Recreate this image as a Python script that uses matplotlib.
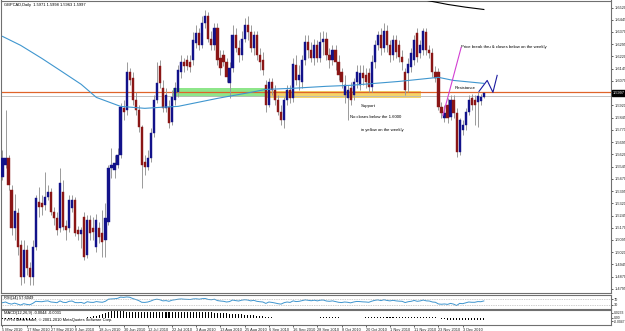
import matplotlib
matplotlib.use("Agg")
import matplotlib.pyplot as plt
from matplotlib.patches import Rectangle

plt.rcParams["font.family"] = ["Liberation Sans", "DejaVu Sans"]

# GBPCAD daily candles, 5 May 2010 .. 14 Dec 2010
opens = [1.5480, 1.5553, 1.5596, 1.5400, 1.5170, 1.5263, 1.5064, 1.4868, 1.5033, 1.4923,
         1.4868, 1.5052, 1.5327, 1.5321, 1.5308, 1.5357, 1.5388, 1.5266, 1.5229, 1.5168,
         1.5388, 1.5180, 1.5168, 1.5290, 1.5339, 1.5155, 1.5131, 1.5235, 1.5003, 1.5217,
         1.5168, 1.5052, 1.5168, 1.5137, 1.5094, 1.5204, 1.5535, 1.5523, 1.5553, 1.5614,
         1.5902, 1.5890, 1.6122, 1.6086, 1.5951, 1.5890, 1.5786, 1.5572, 1.5541, 1.5596,
         1.5749, 1.5951, 1.6159, 1.6025, 1.5902, 1.5908, 1.5817, 1.5951, 1.6000, 1.6122,
         1.6184, 1.6196, 1.6184, 1.6196, 1.6300, 1.6361, 1.6288, 1.6428, 1.6471, 1.6330,
         1.6288, 1.6392, 1.6208, 1.6226, 1.6184, 1.6055, 1.6147, 1.6349, 1.6269, 1.6226,
         1.6330, 1.6410, 1.6367, 1.6269, 1.6349, 1.6226, 1.6196, 1.6043, 1.5920, 1.6061,
         1.6012, 1.5951, 1.5878, 1.5829, 1.5951, 1.6012, 1.5963, 1.6165, 1.6073, 1.6061,
         1.6196, 1.6306, 1.6257, 1.6208, 1.6288, 1.6208, 1.6306, 1.6330, 1.6226, 1.6196,
         1.6257, 1.6184, 1.6122, 1.5982, 1.5963, 1.6025, 1.5982, 1.6061, 1.6043, 1.6116,
         1.6104, 1.6116, 1.6031, 1.6184, 1.6288, 1.6349, 1.6269, 1.6379, 1.6288, 1.6226,
         1.6318, 1.6288, 1.6214, 1.6122, 1.6116, 1.6153, 1.6196, 1.6361, 1.6239, 1.6257,
         1.6367, 1.6257, 1.6239, 1.6122, 1.6122, 1.5908, 1.5841, 1.5920, 1.5847, 1.5951,
         1.5871, 1.5633, 1.5767, 1.5798, 1.5878, 1.5963, 1.5951, 1.5939, 1.5945, 1.5971]
highs = [1.5645, 1.5890, 1.5614, 1.5431, 1.5376, 1.5290, 1.5094, 1.5094, 1.5064, 1.4960,
         1.5094, 1.5370, 1.5419, 1.5370, 1.5510, 1.5431, 1.5413, 1.5296, 1.5266, 1.5535,
         1.5461, 1.5217, 1.5370, 1.5370, 1.5357, 1.5180, 1.5174, 1.5266, 1.5247, 1.5247,
         1.5235, 1.5253, 1.5204, 1.5278, 1.5321, 1.5553, 1.5657, 1.5614, 1.5657, 1.5933,
         1.5951, 1.6184, 1.6147, 1.6122, 1.6000, 1.5920, 1.5798, 1.5614, 1.5645, 1.5780,
         1.5982, 1.6184, 1.6196, 1.6073, 1.6025, 1.5951, 1.6012, 1.6061, 1.6165, 1.6226,
         1.6208, 1.6226, 1.6226, 1.6367, 1.6410, 1.6392, 1.6471, 1.6502, 1.6490, 1.6379,
         1.6428, 1.6428, 1.6257, 1.6257, 1.6208, 1.6184, 1.6410, 1.6392, 1.6318, 1.6379,
         1.6453, 1.6471, 1.6410, 1.6379, 1.6379, 1.6269, 1.6245, 1.6073, 1.6086, 1.6086,
         1.6043, 1.5982, 1.5920, 1.5969, 1.6043, 1.6043, 1.6208, 1.6226, 1.6165, 1.6226,
         1.6349, 1.6349, 1.6306, 1.6330, 1.6318, 1.6367, 1.6379, 1.6367, 1.6269, 1.6288,
         1.6288, 1.6226, 1.6147, 1.6104, 1.6043, 1.6061, 1.6086, 1.6165, 1.6165, 1.6165,
         1.6147, 1.6147, 1.6226, 1.6318, 1.6379, 1.6392, 1.6428, 1.6410, 1.6318, 1.6349,
         1.6349, 1.6318, 1.6257, 1.6147, 1.6208, 1.6269, 1.6349, 1.6392, 1.6318, 1.6392,
         1.6392, 1.6288, 1.6269, 1.6159, 1.6147, 1.5939, 1.5920, 1.5963, 1.5982, 1.5982,
         1.5902, 1.5841, 1.5829, 1.5902, 1.5982, 1.5988, 1.5982, 1.6000, 1.5988, 1.5998]
lows = [1.5461, 1.5535, 1.5400, 1.5125, 1.5094, 1.5003, 1.4819, 1.4832, 1.4881, 1.4819,
        1.4819, 1.5033, 1.5235, 1.5247, 1.5278, 1.5339, 1.5247, 1.5186, 1.5125, 1.5143,
        1.5155, 1.5094, 1.5143, 1.5266, 1.5119, 1.5094, 1.5045, 1.4972, 1.4984, 1.5094,
        1.5094, 1.5021, 1.5076, 1.4990, 1.4990, 1.5186, 1.5474, 1.5474, 1.5535, 1.5596,
        1.5829, 1.5859, 1.6043, 1.5920, 1.5859, 1.5755, 1.5413, 1.5492, 1.5523, 1.5572,
        1.5725, 1.5933, 1.6025, 1.5878, 1.5878, 1.5780, 1.5798, 1.5920, 1.5969, 1.6086,
        1.6122, 1.6135, 1.6122, 1.6165, 1.6269, 1.6257, 1.6269, 1.6392, 1.6306, 1.6257,
        1.6257, 1.6165, 1.6104, 1.6159, 1.6061, 1.5963, 1.6122, 1.6245, 1.6184, 1.6196,
        1.6306, 1.6318, 1.6245, 1.6226, 1.6196, 1.6135, 1.6104, 1.5878, 1.5908, 1.5982,
        1.5920, 1.5859, 1.5798, 1.5780, 1.5920, 1.5933, 1.5939, 1.6043, 1.6012, 1.6025,
        1.6165, 1.6208, 1.6184, 1.6165, 1.6184, 1.6184, 1.6226, 1.6196, 1.6147, 1.6165,
        1.6135, 1.6073, 1.6025, 1.5933, 1.5829, 1.5920, 1.5951, 1.6025, 1.6012, 1.6043,
        1.6025, 1.6000, 1.6000, 1.6147, 1.6257, 1.6226, 1.6245, 1.6245, 1.6184, 1.6196,
        1.6208, 1.6184, 1.6135, 1.5982, 1.6000, 1.6122, 1.6165, 1.6184, 1.6208, 1.6226,
        1.6226, 1.6208, 1.6092, 1.6061, 1.5890, 1.5841, 1.5817, 1.5810, 1.5829, 1.5841,
        1.5602, 1.5614, 1.5737, 1.5767, 1.5859, 1.5890, 1.5798, 1.5786, 1.5920, 1.5963]
closes = [1.5596, 1.5596, 1.5431, 1.5170, 1.5270, 1.5052, 1.4868, 1.5033, 1.4923, 1.4868,
          1.5052, 1.5351, 1.5296, 1.5296, 1.5357, 1.5388, 1.5266, 1.5229, 1.5155, 1.5443,
          1.5174, 1.5155, 1.5339, 1.5339, 1.5137, 1.5131, 1.5155, 1.4990, 1.5217, 1.5137,
          1.5143, 1.5217, 1.5113, 1.5082, 1.5229, 1.5535, 1.5553, 1.5565, 1.5614, 1.5908,
          1.5878, 1.6122, 1.6073, 1.5951, 1.5890, 1.5786, 1.5553, 1.5541, 1.5596, 1.5749,
          1.5951, 1.6055, 1.6055, 1.5902, 1.5982, 1.5810, 1.5969, 1.6025, 1.6135, 1.6184,
          1.6159, 1.6159, 1.6153, 1.6318, 1.6361, 1.6288, 1.6428, 1.6471, 1.6330, 1.6288,
          1.6392, 1.6196, 1.6147, 1.6184, 1.6092, 1.6147, 1.6349, 1.6269, 1.6226, 1.6330,
          1.6410, 1.6367, 1.6269, 1.6349, 1.6226, 1.6184, 1.6135, 1.5920, 1.6061, 1.6012,
          1.5951, 1.5878, 1.5829, 1.5951, 1.6012, 1.5963, 1.6171, 1.6073, 1.6104, 1.6196,
          1.6306, 1.6257, 1.6208, 1.6288, 1.6208, 1.6306, 1.6330, 1.6226, 1.6196, 1.6257,
          1.6184, 1.6104, 1.6061, 1.6043, 1.6012, 1.5951, 1.6061, 1.6122, 1.6116, 1.6086,
          1.6061, 1.6031, 1.6184, 1.6288, 1.6349, 1.6269, 1.6379, 1.6288, 1.6226, 1.6318,
          1.6245, 1.6214, 1.6184, 1.6012, 1.6171, 1.6239, 1.6318, 1.6214, 1.6288, 1.6379,
          1.6257, 1.6239, 1.6122, 1.6086, 1.5908, 1.5871, 1.5871, 1.5841, 1.5951, 1.5871,
          1.5633, 1.5829, 1.5798, 1.5878, 1.5951, 1.5920, 1.5920, 1.5976, 1.5969, 1.5997]

# date labels every 8 bars
date_labels = ["5 May 2010", "17 May 2010", "27 May 2010", "8 Jun 2010", "18 Jun 2010",
               "30 Jun 2010", "12 Jul 2010", "22 Jul 2010", "3 Aug 2010", "13 Aug 2010",
               "25 Aug 2010", "6 Sep 2010", "16 Sep 2010", "28 Sep 2010", "8 Oct 2010",
               "20 Oct 2010", "1 Nov 2010", "11 Nov 2010", "23 Nov 2010", "3 Dec 2010"]

# moving averages (vertices)
ma_bars = [0, 6, 13, 19, 26, 31, 39, 47, 52, 58, 71, 82, 87, 96, 107, 115, 131, 144, 149, 159]
ma_vals = [1.6343, 1.6288, 1.6208, 1.6135, 1.6049, 1.5969, 1.5914, 1.5902, 1.5908, 1.5914,
           1.5963, 1.6000, 1.6018, 1.6025, 1.6037, 1.6043, 1.6067, 1.6092, 1.6073, 1.6055]
ma_slow_bars = [130, 142, 147, 153, 159]
ma_slow_vals = [1.6600, 1.6557, 1.6539, 1.6522, 1.6508]

rsi = [45, 50, 40, 35, 42, 35, 28, 38, 33, 30, 40, 55,
       53, 52, 56, 58, 50, 48, 45, 58, 48, 46, 55, 57,
       46, 45, 47, 40, 52, 48, 47, 53, 50, 48, 55, 70,
       72, 73, 76, 85, 83, 86, 84, 75, 68, 60, 48, 47,
       50, 57, 66, 70, 66, 58, 60, 55, 63, 66, 70, 72,
       70, 69, 68, 72, 73, 70, 74, 75, 68, 66, 70, 60,
       57, 55, 50, 53, 64, 60, 57, 63, 66, 64, 58, 62,
       55, 52, 50, 40, 50, 47, 43, 38, 35, 45, 50, 47,
       58, 53, 55, 60, 65, 62, 59, 63, 58, 63, 64, 57,
       55, 58, 53, 48, 46, 50, 48, 44, 50, 54, 53, 51,
       50, 48, 56, 62, 65, 60, 66, 61, 58, 62, 58, 56,
       55, 46, 52, 55, 61, 55, 58, 64, 58, 57, 50, 48,
       36, 34, 36, 33, 40, 35, 25, 40, 38, 44, 50, 48,
       48, 53, 52, 57.6]

macd = [-0.0040, -0.0035, -0.0040, -0.0050, -0.0052, -0.0058, -0.0070, -0.0068, -0.0072, -0.0075,
        -0.0060, -0.0035, -0.0025, -0.0018, -0.0010, -0.0005, -0.0008, -0.0012, -0.0015, -0.0005,
        -0.0008, -0.0012, -0.0006, -0.0003, -0.0008, -0.0012, -0.0014, -0.0020, 0.0010, 0.0025,
        0.0040, 0.0060, 0.0085, 0.0110, 0.0150, 0.0195, 0.0225, 0.0233, 0.0228, 0.0215,
        0.0200, 0.0195, 0.0190, 0.0185, 0.0180, 0.0178, 0.0175, 0.0172, 0.0170, 0.0172,
        0.0175, 0.0178, 0.0180, 0.0178, 0.0175, 0.0172, 0.0172, 0.0175, 0.0178, 0.0180,
        0.0178, 0.0176, 0.0175, 0.0178, 0.0180, 0.0178, 0.0176, 0.0175, 0.0170, 0.0165,
        0.0160, 0.0155, 0.0148, 0.0140, 0.0132, 0.0125, 0.0120, 0.0115, 0.0108, 0.0100,
        0.0095, 0.0088, 0.0080, 0.0072, 0.0062, 0.0052, 0.0042, 0.0030, 0.0018, 0.0005,
        -0.0005, -0.0012, -0.0018, -0.0022, -0.0025, -0.0025, -0.0022, -0.0025, -0.0022, -0.0018,
        -0.0012, -0.0008, -0.0005, -0.0002, 0.0000, 0.0003, 0.0006, 0.0006, 0.0005, 0.0006,
        0.0005, 0.0002, -0.0002, -0.0004, -0.0006, -0.0008, -0.0007, -0.0004, -0.0002, 0.0000,
        0.0001, 0.0002, 0.0004, 0.0008, 0.0012, 0.0014, 0.0016, 0.0016, 0.0015, 0.0016,
        0.0015, 0.0014, 0.0012, 0.0008, 0.0008, 0.0009, 0.0011, 0.0010, 0.0010, 0.0012,
        0.0012, 0.0010, 0.0006, 0.0002, -0.0020, -0.0040, -0.0055, -0.0068, -0.0072, -0.0078,
        -0.0095, -0.0095, -0.0095, -0.0092, -0.0088, -0.0085, -0.0082, -0.0080, -0.0078, -0.0075]

price_ticks = [1.4795 + 0.0075 * k for k in range(24)]
resistance = 1.6005
bid = 1.5997

W, H = 625, 331
fig = plt.figure(figsize=(W / 100, H / 100), dpi=100)


def box(x0, y0, x1, y1):
    # pixel box, origin at top-left -> figure rect
    return [x0 / W, 1 - y1 / H, (x1 - x0) / W, (y1 - y0) / H]


ax = fig.add_axes(box(0.5, 0.5, 611, 293))
ax_rsi = fig.add_axes(box(0.5, 295, 611, 309))
ax_macd = fig.add_axes(box(0.5, 310, 611, 325))

xlim = (-0.66, 201.0)
bars = range(len(closes))
bull = "#12128a"
bear = "#8a1616"

# candles
for i in bars:
    o, h, l, c = opens[i], highs[i], lows[i], closes[i]
    ax.vlines(i, l, h, color="#9a9a9a", lw=0.7, zorder=2)
    col = bull if c >= o else bear
    lo, hi = min(o, c), max(o, c)
    ax.add_patch(Rectangle((i - 0.36, lo), 0.72, max(hi - lo, 0.0004),
                           facecolor=col, edgecolor=col, lw=0.3, zorder=3))

# zones and lines
ax.add_patch(Rectangle((56.4, 1.5969), 30.4, 0.0055, facecolor="#8ee68a", edgecolor="none", zorder=1))
ax.add_patch(Rectangle((86.8, 1.5963), 51.5, 0.0043, facecolor="#f3d36a", edgecolor="none", zorder=1))
ax.axhline(resistance, color="#e0642a", lw=0.9, zorder=1.5)
ax.axhline(bid - 0.0018, color="#b8b8b8", lw=0.6, zorder=1.5)
ax.plot(ma_bars, ma_vals, color="#3f96cf", lw=0.8, zorder=4)
ax.plot(ma_slow_bars, ma_slow_vals, color="black", lw=0.8, zorder=4)

# annotations
ax.plot([151.5, 145.5], [1.6275, 1.5859], color="#d23fd2", lw=0.8, zorder=5)
ax.plot([157.4, 160.1, 162.0, 163.4], [1.6006, 1.6073, 1.6000, 1.6104], color="#1a1aa0", lw=0.8, zorder=5)
fs = 3.1
ax.text(151.5, 1.6281, "Price break thru & closes below on the weekly", fontsize=fs, va="center")
ax.text(149.2, 1.6024, "Resistance", fontsize=fs, va="center")
ax.text(118.5, 1.5914, "Support", fontsize=fs, va="center")
ax.text(114.9, 1.5847, "No closes below the 1.6000", fontsize=fs, va="center")
ax.text(118.5, 1.5767, "in yellow on the weekly", fontsize=fs, va="center")
ax.text(0.6, 1.6533, "GBPCAD,Daily  1.5971 1.5998 1.5963 1.5997", fontsize=2.9, va="center")

tfs = 2.8
ax.set_xlim(*xlim)
ax.set_ylim(1.4770, 1.6563)
ax.yaxis.tick_right()
ax.set_yticks(price_ticks)
ax.set_yticklabels(["%.4f" % p for p in price_ticks])
ax.set_xticks([])
ax.annotate("%.4f" % bid, xy=(1.003, bid), xycoords=("axes fraction", "data"),
            fontsize=tfs, color="white", va="center", ha="left", annotation_clip=False,
            bbox=dict(boxstyle="square,pad=0.3", fc="black", ec="black"), zorder=10)

# RSI
ax_rsi.plot(list(bars), rsi, color="#3f96cf", lw=0.7)
for lvl in (70, 30):
    ax_rsi.axhline(lvl, color="#a0a0a0", lw=0.5, ls=(0, (1, 1.5)))
ax_rsi.set_xlim(*xlim)
ax_rsi.set_ylim(0, 100)
ax_rsi.yaxis.tick_right()
ax_rsi.set_yticks([70, 30])
ax_rsi.set_xticks([])
ax_rsi.text(0.6, 90, "RSI(14) 57.6049", fontsize=2.9, va="top")

# MACD
ax_macd.bar(list(bars), macd, width=0.35, color="black", bottom=0)
ax_macd.set_xlim(*xlim)
ax_macd.set_ylim(-0.0245, 0.0245)
ax_macd.yaxis.tick_right()
ax_macd.set_yticks([0.0150, 0.0, -0.0130])
ax_macd.set_yticklabels(["0.0233", "0.00", "-0.0047"])
ax_macd.text(0.6, 0.021, "MACD(12,26,9) -0.0044 -0.0031", fontsize=2.9, va="top")
ax_macd.text(0.6, -0.002, "FxPro MetaTrader, \u00a9 2001-2010 MetaQuotes Software Corp.", fontsize=2.9, va="top")
ax_macd.set_xticks(list(range(0, 153, 8)))
ax_macd.set_xticklabels(date_labels, ha="left")

for a in (ax, ax_rsi, ax_macd):
    for s in a.spines.values():
        s.set_color("#707070")
        s.set_linewidth(0.8)
    a.tick_params(labelsize=tfs, length=1.5, width=0.5, pad=0.8, colors="#202020")

ax_macd.tick_params(axis="y", labelsize=2.4, pad=0.5)

plt.savefig("out.png", dpi=100)
